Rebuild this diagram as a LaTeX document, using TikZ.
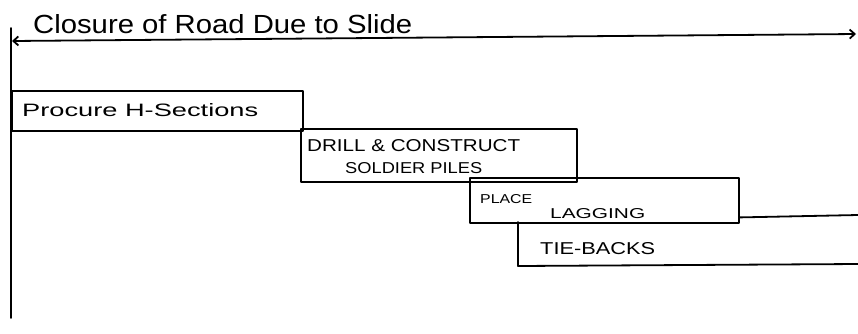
\documentclass[tikz,border=0pt]{standalone}
\usepackage{fontspec}
\setmainfont{Liberation Sans}
\usetikzlibrary{arrows.meta}
\newcommand\fitt[3]{\resizebox{#1}{#2}{#3}}
\begin{document}
\begin{tikzpicture}[x=1pt,y=-1pt,
  ln/.style={line width=1.8pt, line cap=round, line join=round},
  box/.style={ln, draw, rectangle, inner sep=0pt, anchor=north west},
  lbl/.style={anchor=base west, inner sep=0pt}]
\useasboundingbox (0,0) rectangle (858,333);
% time axis
\coordinate (axL) at (12,41);
\coordinate (axR) at (856,34);
\draw[ln, {Straight Barb[length=5pt,width=9pt]}-{Straight Barb[length=5pt,width=9pt]}] (axL) -- (axR);
\node[lbl] (title) at (33,33) {\fitt{379pt}{19pt}{Closure of Road Due to Slide}};
% vertical line
\coordinate (vT) at (11,28);
\coordinate (vB) at (11,318);
\draw[ln] (vT) -- (vB);
% boxes
\node[box, minimum width=291pt, minimum height=40pt] (b1) at (11,90) {};
\node[box, minimum width=276pt, minimum height=53pt] (b2) at (300,128) {};
\node[box, minimum width=269pt, minimum height=45pt] (b3) at (469,177) {};
% open-ended tie-backs bar
\coordinate (b4tl) at (518,222);
\coordinate (b4bl) at (518,266);
\coordinate (b4br) at (858,264);
\coordinate (b4tr) at (858,215);
\draw[ln] (b3.east) ++(0,17) coordinate (b3r) -- (b4tr);
\draw[ln] (b4tl) -- (b4bl) -- (b4br);
% labels
\node[lbl] (t1) at (22,116) {\fitt{236pt}{13pt}{Procure H-Sections}};
\node[lbl] (t2a) at (307,151) {\fitt{213pt}{12pt}{DRILL \& CONSTRUCT}};
\node[lbl] (t2b) at (345,173) {\fitt{137pt}{11pt}{SOLDIER PILES}};
\node[lbl] (t3a) at (480,203) {\fitt{52pt}{9pt}{PLACE}};
\node[lbl] (t3b) at (550,218) {\fitt{95pt}{10pt}{LAGGING}};
\node[lbl] (t4) at (540,254) {\fitt{115pt}{12pt}{TIE-BACKS}};
\end{tikzpicture}
\end{document}
